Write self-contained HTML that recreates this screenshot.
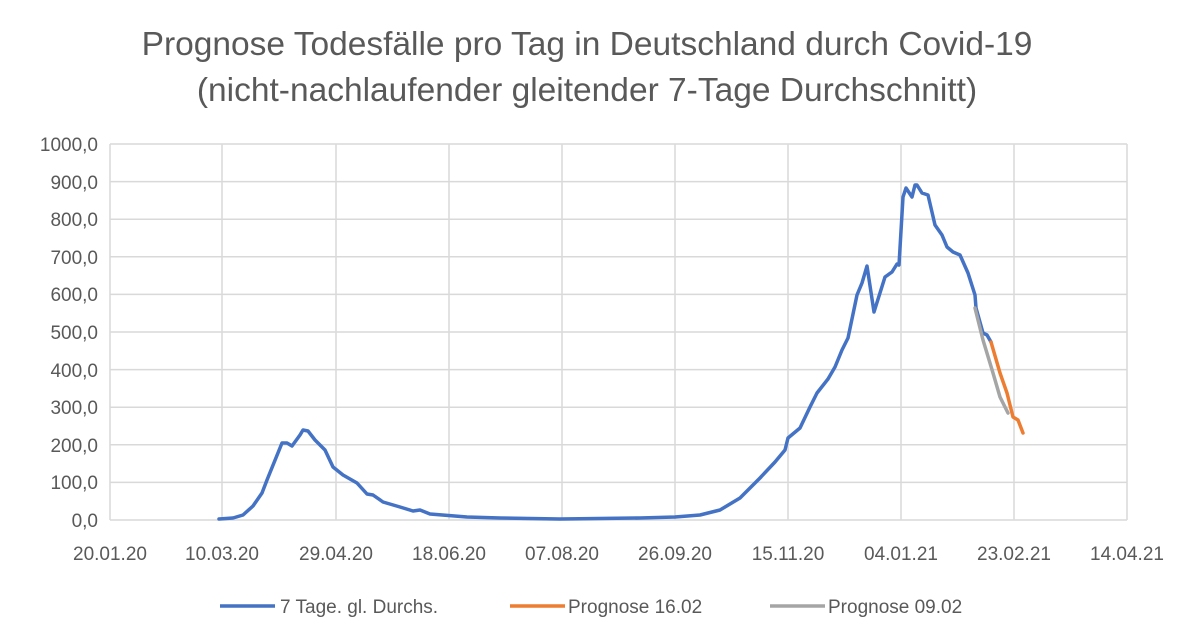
<!DOCTYPE html><html><head><meta charset="utf-8"><style>body{margin:0;background:#fff}svg{display:block}text{font-family:"Liberation Sans",sans-serif;fill:#595959}</style></head><body>
<svg width="1200" height="643" viewBox="0 0 1200 643">
<text x="587" y="55" font-size="33.5" text-anchor="middle">Prognose Todesfälle pro Tag in Deutschland durch Covid-19</text>
<text x="587" y="101" font-size="33.5" text-anchor="middle">(nicht-nachlaufender gleitender 7-Tage Durchschnitt)</text>
<g stroke="#d9d9d9" stroke-width="1.5">
<line x1="110" y1="144" x2="1127" y2="144"/><line x1="110" y1="181.6" x2="1127" y2="181.6"/><line x1="110" y1="219.2" x2="1127" y2="219.2"/><line x1="110" y1="256.8" x2="1127" y2="256.8"/><line x1="110" y1="294.4" x2="1127" y2="294.4"/><line x1="110" y1="332" x2="1127" y2="332"/><line x1="110" y1="369.6" x2="1127" y2="369.6"/><line x1="110" y1="407.2" x2="1127" y2="407.2"/><line x1="110" y1="444.8" x2="1127" y2="444.8"/><line x1="110" y1="482.4" x2="1127" y2="482.4"/><line x1="110" y1="520" x2="1127" y2="520"/>
<line x1="110" y1="144" x2="110" y2="520"/><line x1="222" y1="144" x2="222" y2="520"/><line x1="336" y1="144" x2="336" y2="520"/><line x1="449" y1="144" x2="449" y2="520"/><line x1="562" y1="144" x2="562" y2="520"/><line x1="675" y1="144" x2="675" y2="520"/><line x1="788" y1="144" x2="788" y2="520"/><line x1="901" y1="144" x2="901" y2="520"/><line x1="1014" y1="144" x2="1014" y2="520"/><line x1="1127" y1="144" x2="1127" y2="520"/>
</g>
<g font-size="19" text-anchor="end">
<text x="98" y="151">1000,0</text><text x="98" y="189">900,0</text><text x="98" y="226">800,0</text><text x="98" y="264">700,0</text><text x="98" y="301">600,0</text><text x="98" y="339">500,0</text><text x="98" y="377">400,0</text><text x="98" y="414">300,0</text><text x="98" y="452">200,0</text><text x="98" y="489">100,0</text><text x="98" y="527">0,0</text>
</g>
<g font-size="19" text-anchor="middle">
<text x="110" y="560">20.01.20</text><text x="222" y="560">10.03.20</text><text x="336" y="560">29.04.20</text><text x="449" y="560">18.06.20</text><text x="562" y="560">07.08.20</text><text x="675" y="560">26.09.20</text><text x="788" y="560">15.11.20</text><text x="901" y="560">04.01.21</text><text x="1014" y="560">23.02.21</text><text x="1127" y="560">14.04.21</text>
</g>
<g fill="none" stroke-width="3.5" stroke-linejoin="round" stroke-linecap="round">
<polyline stroke="#4472c4" points="219,519 233,518 243,515 253,506 262,493 267,480 282,443 287,443 292,446 300,435 303,430 308,431 315,440 325,450 333,467 343,475 357,483 367,494 373,495 383,502 400,507 413,511 420,510 430,514 467,517 500,518 560,519 640,518 675,517 700,515 720,510 740,498 760,478 775,462 785,450 788,438 800,428 810,407 817,393 828,379 835,367 842,350 848,338 857,295 862,283 867,266 874,312 885,277 892,272 897,264 899,265 903,197 906,188 912,197 915,185 917,185 922,193 928,195 935,225 942,235 947,247 953,252 960,255 968,273 975,295 976,308 983,333 987,335 991,342"/>
<polyline stroke="#a5a5a5" points="975,308 983,340 993,373 1000,397 1008,413"/>
<polyline stroke="#ed7d31" points="991,342 1000,373 1007,393 1013,417 1018,420 1023,433"/>
</g>
<g stroke-width="3.5">
<line x1="220" y1="606" x2="275" y2="606" stroke="#4472c4"/>
<line x1="510" y1="606" x2="565" y2="606" stroke="#ed7d31"/>
<line x1="770" y1="606" x2="825" y2="606" stroke="#a5a5a5"/>
</g>
<g font-size="19">
<text x="280" y="613">7 Tage. gl. Durchs.</text>
<text x="568" y="613">Prognose 16.02</text>
<text x="828" y="613">Prognose 09.02</text>
</g>
</svg></body></html>
